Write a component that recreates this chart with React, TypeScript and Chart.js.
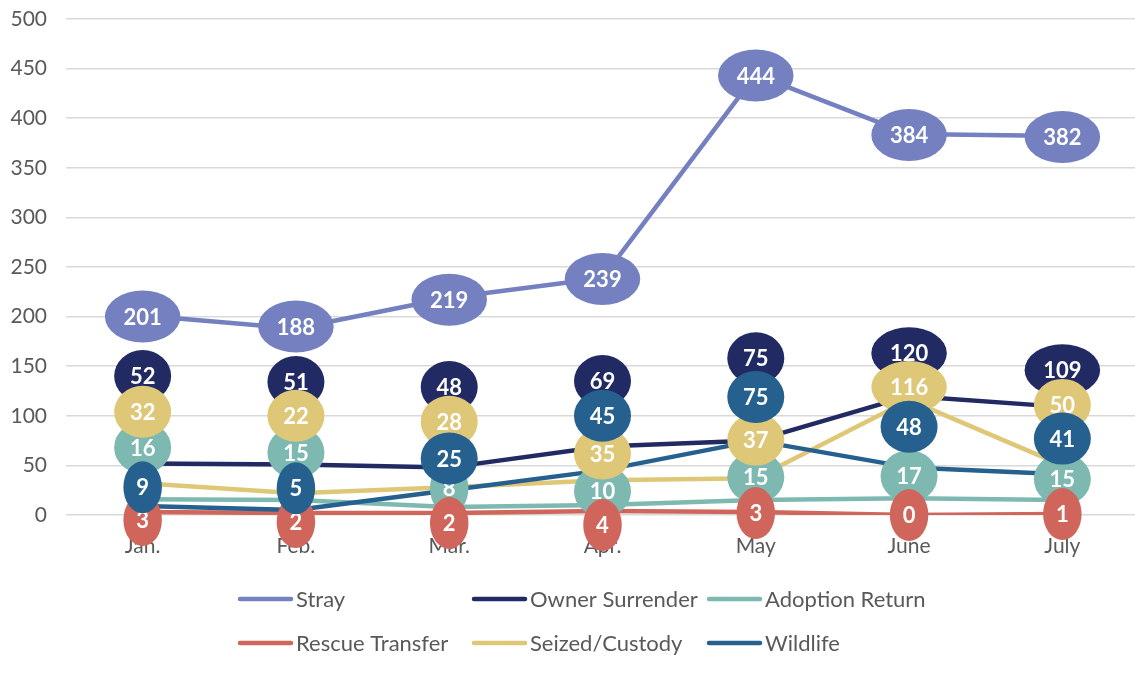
import React, { useEffect, useRef } from "react";
import { Chart, registerables } from "chart.js";

Chart.register(...registerables);

// ---- data ----
const months = ["Jan.", "Feb.", "Mar.", "Apr.", "May", "June", "July"];
const seriesNames = ["Stray", "Owner Surrender", "Adoption Return", "Rescue Transfer", "Seized/Custody", "Wildlife"];
const stray = [201, 188, 219, 239, 444, 384, 382];
const ownerSurrender = [52, 51, 48, 69, 75, 120, 109];
const adoptionReturn = [16, 15, 8, 10, 15, 17, 15];
const rescueTransfer = [3, 2, 2, 4, 3, 0, 1];
const seizedCustody = [32, 22, 28, 35, 37, 116, 50];
const wildlife = [9, 5, 25, 45, 75, 48, 41];
const yMin = 0;
const yMax = 500;
const yStep = 50;

// where each data-label bubble sits, in axis units (bubbles were hand-placed)
const strayLabelAt = [200, 190, 217, 238, 443, 383, 381];
const ownerLabelAt = [140, 134, 129, 135, 158, 163, 146];
const adoptionLabelAt = [68, 63, 27, 24, 38, 39, 36];
const rescueLabelAt = [-5, -7, -8, -10, 2, 0, 1];
const seizedLabelAt = [104, 100, 94, 62, 76, 129, 111];
const wildlifeLabelAt = [28, 27, 57, 100, 119, 89, 77];

const colors = ["#7480BF", "#212A63", "#7DB9B1", "#D0665B", "#DEC878", "#25608F"];
const seriesValues = [stray, ownerSurrender, adoptionReturn, rescueTransfer, seizedCustody, wildlife];
const labelAnchors = [strayLabelAt, ownerLabelAt, adoptionLabelAt, rescueLabelAt, seizedLabelAt, wildlifeLabelAt];

const FONT = "Lato, 'Open Sans', sans-serif";
const TEXT_COLOR = "#595959";

const bubblePlugin = {
  id: "bubbleLabels",
  afterDatasetsDraw(chart: any) {
    const ctx = chart.ctx;
    const y = chart.scales.y;
    ctx.save();
    ctx.font = `bold 22px ${FONT}`;
    ctx.textAlign = "center";
    ctx.textBaseline = "middle";
    chart.data.datasets.forEach((ds: any, i: number) => {
      const meta = chart.getDatasetMeta(i);
      meta.data.forEach((pt: any, j: number) => {
        const txt = String(ds.data[j]);
        const cx = pt.x;
        const cy = y.getPixelForValue(labelAnchors[i][j]);
        const tw = ctx.measureText(txt).width;
        const rx = (tw * 1.45 + 20) / 2;
        const ry = 26;
        ctx.beginPath();
        ctx.ellipse(cx, cy, rx, ry, 0, 0, Math.PI * 2);
        ctx.fillStyle = colors[i];
        ctx.fill();
        ctx.fillStyle = "#ffffff";
        ctx.fillText(txt, cx, cy + 1);
      });
    });
    ctx.restore();
  },
};

const legendPlugin = {
  id: "gridLegend",
  afterDraw(chart: any) {
    const ctx = chart.ctx;
    const cols = [238, 472, 707];
    const rows = [599, 643];
    ctx.save();
    ctx.font = `22px ${FONT}`;
    ctx.textBaseline = "middle";
    ctx.textAlign = "left";
    seriesNames.forEach((name, i) => {
      const x = cols[i % 3];
      const yy = rows[Math.floor(i / 3)];
      ctx.beginPath();
      ctx.moveTo(x + 2, yy);
      ctx.lineTo(x + 53, yy);
      ctx.lineCap = "round";
      ctx.lineWidth = 4.5;
      ctx.strokeStyle = colors[i];
      ctx.stroke();
      ctx.fillStyle = TEXT_COLOR;
      ctx.fillText(name, x + 58, yy + 1);
    });
    ctx.restore();
  },
};

export default function App() {
  const ref = useRef<HTMLCanvasElement | null>(null);
  useEffect(() => {
    if (!ref.current) return;
    const chart = new Chart(ref.current, {
      type: "line",
      data: {
        labels: months,
        datasets: seriesValues.map((vals, i) => ({
          label: seriesNames[i],
          data: vals,
          borderColor: colors[i],
          backgroundColor: colors[i],
          borderWidth: 4.5,
          pointRadius: 0,
          pointHoverRadius: 0,
          tension: 0,
          fill: false,
          borderCapStyle: "round",
          borderJoinStyle: "round",
          order: -i,
        })),
      },
      options: {
        animation: false,
        responsive: false,
        layout: { padding: { top: 19, left: 0, right: 0, bottom: 0 } },
        plugins: {
          legend: { display: false },
          title: { display: false },
          tooltip: { enabled: false },
        },
        scales: {
          x: {
            offset: true,
            grid: { display: false, drawTicks: false },
            border: { display: false },
            ticks: { font: { family: FONT, size: 21 }, color: TEXT_COLOR, padding: 19 },
            afterFit: (s: any) => {
              s.height = 673 - 515 - 0;
              s.paddingLeft = 0;
              s.paddingRight = 0;
              s.paddingTop = 0;
              s.paddingBottom = 0;
            },
          },
          y: {
            min: yMin,
            max: yMax,
            grid: { color: "#d9d9d9", lineWidth: 1.5, drawTicks: false },
            border: { display: false },
            ticks: { stepSize: yStep, font: { family: FONT, size: 21 }, color: TEXT_COLOR, padding: 19 },
            afterFit: (s: any) => {
              s.width = 66;
              s.paddingTop = 0;
              s.paddingBottom = 0;
            },
          },
        },
      },
      plugins: [bubblePlugin, legendPlugin],
    });
    return () => chart.destroy();
  }, []);
  return (
    <div style={{ position: "absolute", left: 0, top: 0, width: 1135, height: 673, overflow: "hidden", background: "#fff" }}>
      <canvas ref={ref} width={1139} height={673} style={{ display: "block" }} />
    </div>
  );
}
